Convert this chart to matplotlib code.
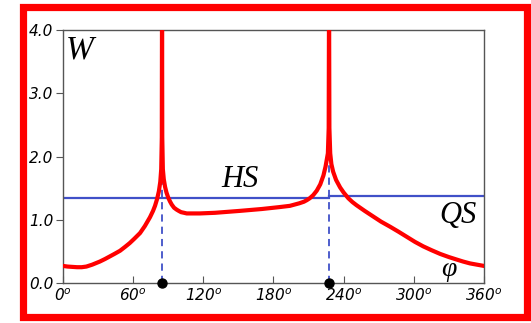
import matplotlib.pyplot as plt
from matplotlib.patches import Rectangle

# W(phi), two resonances near 84.7 and 227.5 deg
phi = [0, 4, 8, 12, 16, 20, 25, 31.6, 36, 40, 44, 48.8, 53, 57, 61, 65.9, 70, 74.4, 77, 78.7,
       80.5, 82, 83.2, 84.0, 84.5, 84.7,
       84.9, 85.4, 86.2, 87.3, 88.5, 90, 91.5, 93, 95, 97.2, 99, 101, 103.5, 105.8, 111, 117,
       130, 151, 170, 185, 194, 202, 206, 208.5, 211, 214, 217, 220, 222.7, 224.5, 226.5, 227.2,
       227.5, 227.8, 228.5, 229.5, 231, 233.5, 237, 240, 244, 247.5, 251, 258, 265.4, 272,
       279.7, 287, 294, 301, 308, 315, 322.5, 330, 336.8, 342, 348, 354, 360]
W = [0.27, 0.26, 0.255, 0.25, 0.25, 0.26, 0.29, 0.34, 0.38, 0.42, 0.46, 0.51, 0.57, 0.63, 0.70, 0.79,
     0.90, 1.04, 1.14, 1.22,
     1.33, 1.45, 1.60, 1.80, 2.30, 4.6,
     2.30, 1.80, 1.64, 1.52, 1.43, 1.35, 1.29, 1.24, 1.19, 1.16, 1.14, 1.12, 1.11, 1.10, 1.10, 1.10,
     1.11, 1.14, 1.17, 1.20, 1.22, 1.26, 1.285, 1.31, 1.34, 1.39, 1.46, 1.56, 1.70, 1.84, 2.05, 2.45,
     4.6, 2.45, 2.05, 1.88, 1.76, 1.63, 1.51, 1.43, 1.34, 1.28, 1.23, 1.14, 1.05, 0.97,
     0.89, 0.81, 0.73, 0.65, 0.58, 0.52, 0.46, 0.41, 0.37, 0.34, 0.31, 0.29, 0.27]

# HS / QS levels
hs_x = [0, 227.5]
hs_y = [1.34, 1.34]
qs_x = [227.5, 360]
qs_y = [1.375, 1.375]

# resonance angles and cusp heights
res_phi = [84.7, 227.5]
res_W = [1.85, 2.10]

xticks = [0, 60, 120, 180, 240, 300, 360]
yticks = [0, 1, 2, 3, 4]

fig = plt.figure(figsize=(5.31, 3.23), dpi=100)
ax = fig.add_axes([0.1186, 0.1238, 0.7929, 0.7833])

blue = "#4050c8"
ax.plot(hs_x, hs_y, color=blue, lw=1.6, zorder=2)
ax.plot(qs_x, qs_y, color=blue, lw=1.6, zorder=2)
for p, w in zip(res_phi, res_W):
    ax.plot([p, p], [0, w], color=blue, lw=1.3, ls=(0, (4, 2.8)), zorder=2)
ax.plot(phi, W, color="red", lw=3.0, zorder=3, solid_joinstyle="round")
ax.scatter(res_phi, [0, 0], s=42, color="black", zorder=5, clip_on=False)

ax.set_xlim(0, 360)
ax.set_ylim(0, 4)
ax.set_xticks(xticks)
ax.set_xticklabels([f"{t}$^o$" for t in xticks], fontsize=11, fontstyle="italic",
                   family="DejaVu Sans")
ax.set_yticks(yticks)
ax.set_yticklabels([f"{t:.1f}" for t in yticks], fontsize=11, fontstyle="italic",
                   family="DejaVu Sans")
ax.tick_params(axis="x", direction="in", length=5, color="#555555", pad=3)
ax.tick_params(axis="y", direction="out", length=5, color="#555555", pad=2)
for s in ax.spines.values():
    s.set_color("#555555")
    s.set_linewidth(1.0)

serif = dict(family="Liberation Serif", style="italic", color="black")
ax.text(2.5, 3.92, "W", fontsize=24, ha="left", va="top", **serif)
ax.text(151, 1.63, "HS", fontsize=22, ha="center", va="center", **serif)
ax.text(338, 1.07, "QS", fontsize=22, ha="center", va="center", **serif)
ax.text(330, 0.22, "φ", fontsize=20, ha="center", va="center", **serif)

fig.patches.append(Rectangle((0.0424, 0.020), 0.951, 0.959, transform=fig.transFigure,
                             fill=False, edgecolor="red", lw=5.2))

fig.savefig("out.png", dpi=100)
